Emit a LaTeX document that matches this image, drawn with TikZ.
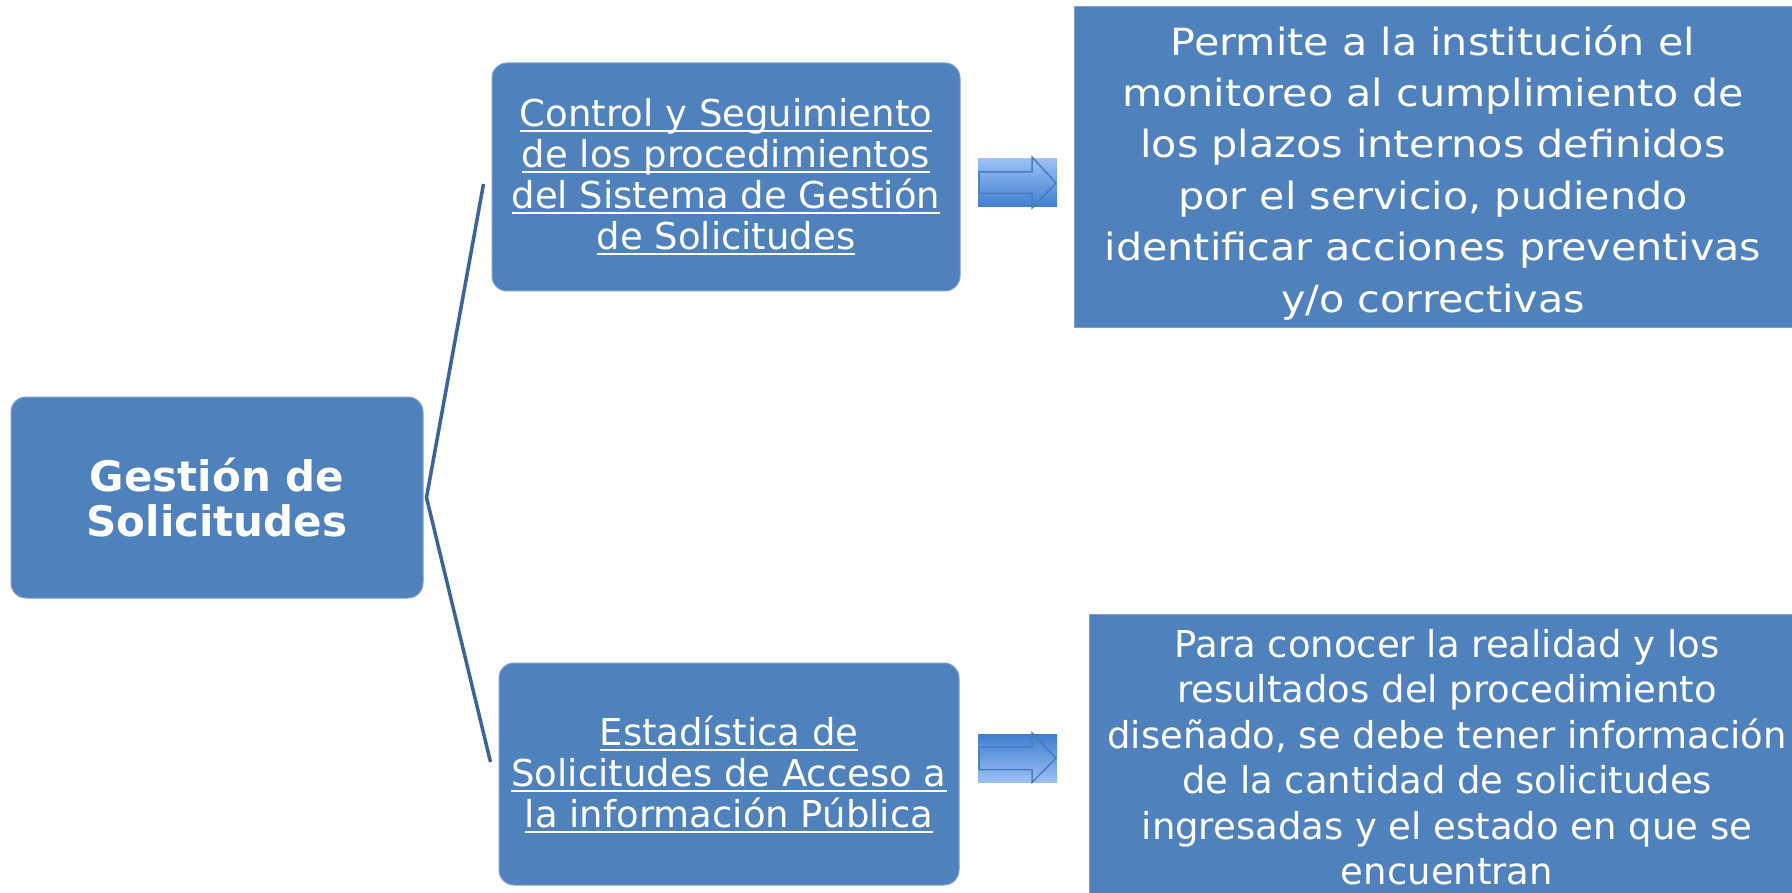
\documentclass[tikz,border=0pt]{standalone}
\usepackage{fontspec}
\setmainfont{DejaVu Sans}
\newfontfamily\widefont[FakeStretch=1.1]{DejaVu Sans}
\usetikzlibrary{calc}
\definecolor{boxblue}{RGB}{79,129,189}
\definecolor{boxedge}{RGB}{125,160,208}
\definecolor{bracecol}{RGB}{60,100,152}
\definecolor{arrlight}{RGB}{156,192,245}
\definecolor{arrdark}{RGB}{62,126,208}
\definecolor{arredge}{RGB}{74,124,190}
\newcommand\myul[1]{\setbox0\hbox{#1}\rlap{\rule[-5.5pt]{\wd0}{2pt}}\box0}
\begin{document}
\begin{tikzpicture}[x=1pt,y=-1pt,
  roundbox/.style={fill=boxblue,draw=boxedge,line width=1pt,rounded corners=15pt,text=white,align=center,inner sep=0pt},
  flatbox/.style={fill=boxblue,draw=boxedge,line width=1pt,inner sep=0pt},
  boxtext/.style={text=white,align=center,inner sep=0pt},
  bracketline/.style={draw=bracecol,line width=3.5pt},
  arrowedge/.style={draw=arredge,line width=1.5pt}
  ]
\useasboundingbox (0,0) rectangle (1792,893);
\clip (0,0) rectangle (1792,893);
\fill[white] (0,0) rectangle (1792,893);

\node[roundbox,minimum width=412pt,minimum height=201pt,font={\fontsize{42}{46}\selectfont\bfseries}] (main) at (217,497.5) {Gestión de\\Solicitudes};

\node[roundbox,minimum width=468pt,minimum height=228pt,font={\fontsize{37}{41}\selectfont}] (ctrl) at (726,177)
  {\myul{Control y Seguimiento}\\\myul{de los procedimientos}\\\myul{del Sistema de Gestión}\\\myul{de Solicitudes}};

\node[roundbox,minimum width=460pt,minimum height=222pt,font={\fontsize{37}{41}\selectfont}] (est) at (729,774)
  {\myul{Estadística de}\\\myul{Solicitudes de Acceso a}\\\myul{la información Pública}};

\node[flatbox,minimum width=718pt,minimum height=321pt] (perm) at (1433,167.5) {};
\node[boxtext,font={\widefont\fontsize{37.5}{51.4}\selectfont}] (permtext) at ($(perm.center)+(0,5)$)
  {Permite a la institución el\\monitoreo al cumplimiento de\\los plazos internos definidos\\por el servicio, pudiendo\\identificar acciones preventivas\\y/o correctivas};

\node[flatbox,minimum width=716pt,minimum height=292pt] (para) at (1447,760) {};
\node[boxtext,font={\fontsize{37}{45.5}\selectfont}] (paratext) at ($(para.center)+(0,-3)$)
  {Para conocer la realidad y los\\resultados del procedimiento\\diseñado, se debe tener información\\de la cantidad de solicitudes\\ingresadas y el estado en que se\\encuentran};

% bracket
\coordinate (v) at ($(main.east)+(3,0)$);
\coordinate (t) at ($(ctrl.west)+(-8,7)$);
\coordinate (b) at ($(est.west)+(-8,-12)$);
\draw[bracketline] (t) -- (v) -- (b);

% block arrows
\shade[top color=arrlight,bottom color=arrdark] (978,159) rectangle (1057,207);
\draw[arrowedge] (979,172) -- (1032,172) -- (1032,157) -- (1056,183) -- (1032,208) -- (1032,193.5) -- (979,193.5) -- cycle;

\shade[top color=arrdark,bottom color=arrlight] (978,734) rectangle (1057,782);
\draw[arrowedge] (979,747) -- (1032,747) -- (1032,733) -- (1056,758) -- (1032,782.5) -- (1032,769.5) -- (979,769.5) -- cycle;
\end{tikzpicture}
\end{document}
